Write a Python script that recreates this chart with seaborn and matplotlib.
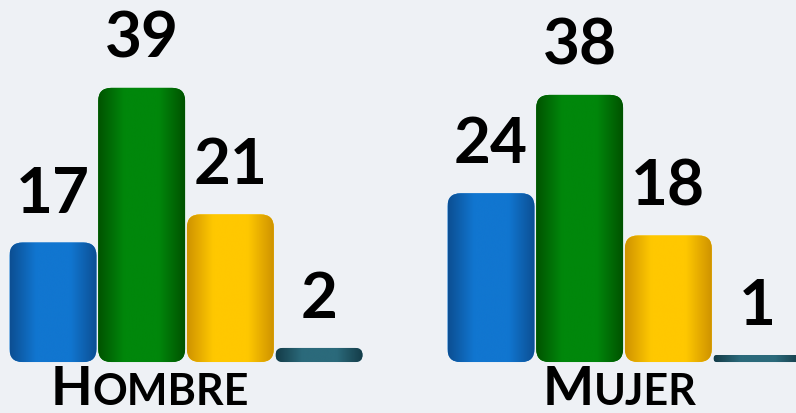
import numpy as np
import pandas as pd
import matplotlib
matplotlib.use("Agg")
import matplotlib.pyplot as plt
import seaborn as sns
from matplotlib.patches import FancyBboxPatch
from matplotlib.colors import LinearSegmentedColormap

groups = ["Hombre", "Mujer"]
categories = ["A", "B", "C", "D"]
hombre_values = [17, 39, 21, 2]
mujer_values = [24, 38, 18, 1]
group_labels = [("H", "OMBRE"), ("M", "UJER")]

bar_colors = ["#1176d0", "#00870b", "#ffc800", "#2b6a7b"]
edge_dark = ["#0c4f93", "#005300", "#cf9300", "#143c48"]

df = pd.DataFrame({
    "group": np.repeat(groups, len(categories)),
    "category": categories * len(groups),
    "value": hombre_values + mujer_values,
})

sns.set_theme(style="white")
plt.rcParams["font.family"] = ["Lato", "DejaVu Sans"]
bg = "#eef1f5"

fig = plt.figure(figsize=(7.96, 4.13), dpi=100, facecolor=bg)
ax = fig.add_axes([0, 0, 1, 1])
ax.set_facecolor(bg)

sns.barplot(data=df, x="group", y="value", hue="category", order=groups,
            hue_order=categories, palette=bar_colors, width=0.81,
            legend=False, ax=ax, saturation=1)

xlim = (-0.4247, 1.3927)
ylim = (-7.25, 51.5)
ax.set_xlim(*xlim)
ax.set_ylim(*ylim)
fig.canvas.draw()

px_per_x = 796 / (xlim[1] - xlim[0])
px_per_y = 413 / (ylim[1] - ylim[0])
aspect = px_per_x / px_per_y

rects = list(ax.patches)
for i, rect in enumerate(rects):
    x0 = rect.get_x()
    w = rect.get_width()
    h = rect.get_height()
    ci = i // len(groups)  # hue-major ordering in seaborn
    rect.set_visible(False)
    gx0 = x0 + w * 0.01
    gw = w * 0.98
    r_px = min(13, h * px_per_y / 2)
    r_x = r_px / px_per_x
    patch = FancyBboxPatch((gx0, 0), gw, h,
                           boxstyle=f"round,pad=0,rounding_size={r_x}",
                           mutation_aspect=aspect, linewidth=0,
                           facecolor=bar_colors[ci], zorder=3)
    ax.add_patch(patch)
    cmap = LinearSegmentedColormap.from_list(
        "g", [(0, edge_dark[ci]), (0.3, bar_colors[ci]),
              (0.7, bar_colors[ci]), (1, edge_dark[ci])])
    grad = np.linspace(0, 1, 200).reshape(1, -1)
    im = ax.imshow(grad, cmap=cmap, aspect="auto",
                   extent=(gx0, gx0 + gw, 0, h), zorder=4,
                   interpolation="bicubic")
    im.set_clip_path(patch)
    ax.text(x0 + w / 2, h + 30 / px_per_y, str(int(round(h))),
            ha="center", va="baseline", fontsize=46, fontweight="bold",
            color="black", zorder=5)

ax.set_xlim(*xlim)
ax.set_ylim(*ylim)

# group labels in small caps style
label_split_px = [92, 594]
for (big, small), split in zip(group_labels, label_split_px):
    xs = xlim[0] + split / px_per_x
    yb = ylim[0] + 8 / px_per_y
    ax.text(xs, yb, big, ha="right", va="baseline", fontsize=39,
            fontweight="bold", color="black", zorder=5)
    ax.text(xs, yb, small, ha="left", va="baseline", fontsize=31,
            fontweight="bold", color="black", zorder=5)

ax.axis("off")
fig.savefig("out.png", dpi=100, facecolor=bg)
